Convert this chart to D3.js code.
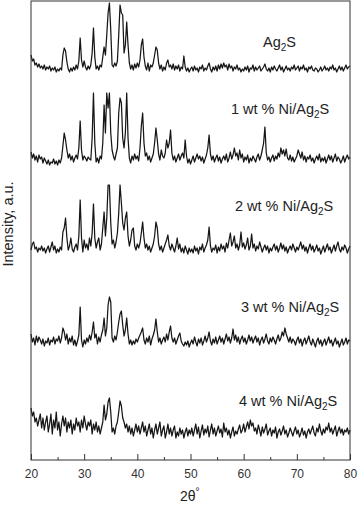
<!DOCTYPE html>
<html>
<head>
<meta charset="utf-8">
<script src="https://cdn.jsdelivr.net/npm/d3@7"></script>
<style>
  body { margin: 0; background: #fff; }
  svg { display: block; font-family: "Liberation Sans", Arial, sans-serif; }
</style>
</head>
<body>
<svg id="chart"></svg>
<script>
// scan grid (degrees 2-theta)
const startAngle = 20;
const stepAngle = 0.25;

const xTicks = [20, 30, 40, 50, 60, 70, 80];
const xMinorTicks = [25, 35, 45, 55, 65, 75];

const sampleLabels = ["Ag2S", "1 wt % Ni/Ag2S", "2 wt % Ni/Ag2S", "3 wt % Ni/Ag2S", "4 wt % Ni/Ag2S"];
// vertical stacking offset of each pattern (a.u.)
const sampleOffsets = [385, 292, 202, 110, 18];

// intensities, 20..80 deg every 0.25 deg
const ag2s = [
  20,14,16,10,12,8,11,7,9,6, 10,5,8,6,9,4,7,5,8,3, 6,4,7,5,20,27,24,13,6,3,
  7,4,8,5,10,6,14,37,15,8, 14,8,5,9,6,10,22,47,18,6, 9,5,10,8,18,28,20,40,62,72,
  45,10,8,12,9,14,40,70,62,60, 22,30,53,30,12,6,10,5,11,7, 12,8,15,30,36,18,9,5,12,4,
  10,8,12,20,28,25,12,6,10,4, 8,5,12,15,8,10,6,11,5,9, 6,10,4,8,6,19,8,4,7,3,
  6,
  8,4,9,5,7,3,8,6,10,4,7,5,9,12,6,3,8,5,9,4,
  10,6,11,7,12,8,10,5,11,7,9,4,8,6,10,5,7,3,6,4,
  8,5,9,3,7,6,10,4,8,5,7,9,4,6,8,11,6,4,7,3,
  8,5,9,6,4,7,10,5,8,3,6,9,5,7,4,8,6,10,5,7,
  9,4,8,6,10,5,7,3,8,6,9,5,4,7,6,3,5,8,4,6,
  9,5,7,4,8,6,10,5,7,3,6,9,5,8,4,7,10,6,8,9
];

const ni1 = [
  16,10,14,8,12,6,13,9,11,5, 10,7,4,8,3,6,5,9,4,7, 3,8,5,10,22,35,28,18,10,14,
  8,12,6,10,13,9,20,47,18,8, 12,10,7,11,9,8,30,75,25,6, 10,5,12,9,25,63,35,75,60,75,
  35,18,12,8,14,20,55,70,65,30, 20,35,75,30,10,5,12,8,14,9, 12,7,20,42,55,25,12,15,8,12,
  6,10,14,25,40,28,14,8,18,12, 10,15,28,20,25,38,15,8,12,6, 10,14,8,12,15,10,28,12,5,9,
  4,
  8,12,6,10,14,9,12,7,11,5,9,13,20,33,14,8,12,6,10,13,
  7,11,5,9,12,8,14,6,10,16,9,13,20,12,15,8,18,10,14,6,
  11,8,13,5,10,7,12,9,6,11,14,8,12,18,25,41,15,8,11,6,
  10,13,7,12,9,15,11,20,14,18,12,19,10,8,13,7,11,6,9,12,
  18,14,10,16,8,12,6,11,9,13,7,10,5,9,12,8,14,6,10,7,
  11,5,9,13,8,12,6,10,14,7,11,9,5,8,12,6,10,13,9,11
];

const ni2 = [
  8,14,16,9,11,6,10,8,12,7, 10,5,9,12,6,11,16,8,12,5, 9,6,11,8,26,30,40,20,8,12,
  20,9,6,11,14,8,22,58,20,6, 18,10,14,8,20,12,25,54,20,10, 16,20,8,14,30,46,22,40,73,73,
  35,14,18,10,16,25,45,73,55,35, 28,40,46,22,12,18,28,30,12,8, 14,10,15,25,36,20,10,14,8,12,
  6,10,14,22,36,30,14,8,12,6, 10,14,18,23,12,8,14,10,6,12, 20,9,14,6,10,5,12,8,4,10,
  6,
  9,5,12,7,10,4,11,8,14,6,10,13,18,31,12,6,10,8,13,5,
  11,7,14,9,12,6,15,10,18,25,12,16,22,10,14,8,13,26,11,15,
  9,13,20,8,12,24,10,14,7,12,9,16,11,6,10,13,8,12,5,10,
  7,11,14,8,12,6,10,15,9,13,7,11,5,9,12,8,14,10,6,11,
  8,12,16,9,13,7,11,5,10,14,8,12,6,9,13,7,10,4,8,12,
  6,10,14,8,11,5,9,13,7,12,16,9,6,11,8,13,10,5,9,12
];

const ni3 = [
  16,8,12,5,14,8,13,10,6,11, 4,9,7,12,5,10,8,13,6,11, 9,14,7,12,22,18,10,16,6,12,
  8,14,5,10,4,9,15,43,10,3, 10,6,12,8,15,10,18,28,12,16, 6,13,8,15,20,32,14,22,45,53,
  48,12,8,14,10,18,28,36,39,25, 14,20,32,16,6,10,5,9,6,11, 8,12,15,18,22,10,6,12,8,14,
  5,11,15,20,31,18,8,12,6,10, 13,8,16,10,18,24,12,8,12,6, 10,14,17,9,6,4,8,5,9,3,
  7,
  10,6,13,8,4,11,7,12,5,9,14,8,12,18,9,5,11,7,13,6,
  10,14,8,12,6,11,16,9,13,7,12,21,10,15,8,13,6,11,14,8,
  12,6,10,15,9,13,7,11,14,8,12,5,10,13,7,11,16,9,6,12,
  8,13,10,6,11,15,9,12,18,14,22,16,12,8,13,7,11,9,5,10,
  13,7,11,4,9,12,6,10,14,8,5,11,7,3,9,12,6,10,4,8,
  11,5,9,13,7,10,4,8,12,6,9,3,7,11,5,8,12,6,10,9
];

const ni4 = [
  34,26,30,20,24,16,22,28,14,24, 12,20,26,10,18,28,8,22,14,30, 12,20,6,18,26,16,24,10,20,14,
  22,8,18,12,24,16,20,10,22,14, 26,18,12,20,16,22,8,18,12,20, 10,16,8,14,20,37,22,28,40,44,
  30,10,14,8,16,20,30,41,36,24, 20,14,18,10,16,8,14,6,12,18, 10,16,8,14,20,10,16,6,12,18,
  8,14,4,12,18,8,14,20,6,12, 16,4,10,18,8,14,6,12,16,4, 10,6,14,8,12,4,10,14,6,12,
  8,
  14,6,12,18,8,15,4,11,17,7,13,9,16,5,12,18,8,14,6,11,
  16,9,13,5,19,10,14,7,12,4,10,15,6,11,8,13,17,9,12,18,
  10,15,20,13,22,16,19,11,14,8,17,12,6,15,9,13,18,7,11,14,
  6,12,9,15,4,10,13,7,11,16,8,12,5,9,14,10,6,11,15,8,
  12,5,9,14,7,11,4,10,13,8,12,16,9,6,14,10,18,11,7,13,
  9,15,12,19,10,14,8,12,16,6,11,15,9,13,7,12,10,14,8,12
];

const patterns = [ag2s, ni1, ni2, ni3, ni4];

// layout
const W = 358, H = 506;
const plot = { left: 31, right: 350, top: 1, bottom: 460 };
const labelAnchors = [[263, 47], [231, 114], [235, 211], [241, 312], [239, 406]];

const svg = d3.select('#chart')
  .attr('width', W)
  .attr('height', H);

const xScale = d3.scaleLinear()
  .domain([20, 80])
  .range([plot.left, plot.right]);

const yScale = d3.scaleLinear()
  .domain([0, plot.bottom - plot.top])
  .range([plot.bottom, plot.top]);

const line = d3.line()
  .x((d, i) => xScale(startAngle + i * stepAngle))
  .y(d => yScale(d));

// patterns
svg.append('g')
  .selectAll('path')
  .data(patterns)
  .join('path')
  .attr('d', (d, k) => line(d.map(v => v + sampleOffsets[k])))
  .attr('fill', 'none')
  .attr('stroke', '#161616')
  .attr('stroke-width', 1.25)
  .attr('stroke-linejoin', 'round');

// frame
svg.append('rect')
  .attr('x', plot.left)
  .attr('y', plot.top)
  .attr('width', plot.right - plot.left)
  .attr('height', plot.bottom - plot.top)
  .attr('fill', 'none')
  .attr('stroke', '#333')
  .attr('stroke-width', 1);

// x axis, ticks pointing inward
const xAxis = d3.axisBottom(xScale)
  .tickValues(xTicks)
  .tickSizeInner(-6)
  .tickSizeOuter(0)
  .tickPadding(9)
  .tickFormat(d3.format('d'));

const xAxisG = svg.append('g')
  .attr('transform', `translate(0,${plot.bottom})`)
  .call(xAxis);
xAxisG.select('.domain').remove();
xAxisG.selectAll('line').attr('stroke', '#333');
xAxisG.selectAll('text')
  .attr('fill', '#333')
  .style('font-size', '12px')
  .style('font-family', '"Liberation Sans", Arial, sans-serif');

const minorG = svg.append('g')
  .attr('transform', `translate(0,${plot.bottom})`)
  .call(d3.axisBottom(xScale).tickValues(xMinorTicks).tickSizeInner(-3).tickSizeOuter(0).tickFormat(''));
minorG.select('.domain').remove();
minorG.selectAll('line').attr('stroke', '#333');

// sample labels with subscript
const labels = svg.append('g')
  .selectAll('text')
  .data(sampleLabels)
  .join('text')
  .attr('x', (d, i) => labelAnchors[i][0])
  .attr('y', (d, i) => labelAnchors[i][1])
  .attr('fill', '#222')
  .style('font-size', '14.5px');

labels.each(function(d) {
  const t = d3.select(this);
  const prefix = d.split('Ag2S')[0];
  t.append('tspan').text(prefix + 'Ag');
  t.append('tspan').attr('dy', 4).style('font-size', '10px').text('2');
  t.append('tspan').attr('dy', -4).text('S');
});

// axis titles
svg.append('text')
  .attr('transform', `translate(13,224) rotate(-90)`)
  .attr('text-anchor', 'middle')
  .attr('fill', '#222')
  .style('font-size', '14.5px')
  .text('Intensity, a.u.');

const xt = svg.append('text')
  .attr('x', 180)
  .attr('y', 501)
  .attr('fill', '#222')
  .style('font-size', '14px');
xt.append('tspan').text('2θ');
xt.append('tspan').attr('dy', -6).style('font-size', '10px').text('°');
</script>
</body>
</html>
